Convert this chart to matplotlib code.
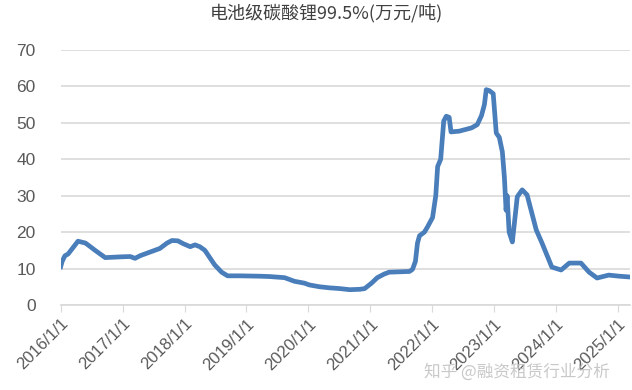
import pandas as pd
import matplotlib.pyplot as plt

plt.rcParams['font.family'] = ['Noto Sans CJK SC', 'DejaVu Sans']

# battery-grade lithium carbonate price, 10k yuan / t
dates = [
    "2016-01-01", "2016-01-10", "2016-01-26", "2016-02-14", "2016-03-10", "2016-04-12",
    "2016-05-26", "2016-06-24", "2016-07-22", "2016-08-21", "2016-09-20", "2016-12-16",
    "2017-02-14", "2017-03-15", "2017-04-13", "2017-06-10", "2017-08-08", "2017-09-20",
    "2017-10-19", "2017-11-23", "2017-12-25", "2018-02-04", "2018-03-04", "2018-04-01",
    "2018-05-01", "2018-05-30", "2018-06-28", "2018-08-08", "2018-09-12", "2018-11-24",
    "2019-03-21", "2019-05-19", "2019-08-14", "2019-10-12", "2019-12-09", "2020-01-08",
    "2020-03-08", "2020-05-07", "2020-07-05", "2020-09-02", "2020-10-31", "2020-11-29",
    "2021-01-09", "2021-02-12", "2021-03-25", "2021-04-23", "2021-08-21", "2021-09-08",
    "2021-09-25", "2021-10-07", "2021-10-19", "2021-11-17", "2021-12-05", "2022-01-04",
    "2022-01-23", "2022-02-03", "2022-02-21", "2022-03-11", "2022-03-26", "2022-04-12",
    "2022-04-23", "2022-06-10", "2022-08-22", "2022-09-25", "2022-10-20", "2022-11-06",
    "2022-11-17", "2022-12-06", "2022-12-28", "2023-01-15", "2023-02-02", "2023-02-20",
    "2023-03-04", "2023-03-14", "2023-03-20", "2023-04-01", "2023-04-20", "2023-05-19",
    "2023-06-17", "2023-07-16", "2023-09-08", "2023-10-12", "2023-12-09", "2024-02-02",
    "2024-03-21", "2024-05-29", "2024-07-16", "2024-09-01", "2024-11-09", "2025-01-10",
    "2025-03-08",
]
prices = [
    10.5, 12.0, 13.5, 14.0, 15.5, 17.5,
    17.0, 16.0, 15.0, 14.0, 13.0, 13.2,
    13.3, 12.8, 13.5, 14.5, 15.5, 17.0,
    17.7, 17.6, 16.8, 16.0, 16.5, 16.0,
    15.0, 13.0, 11.0, 9.0, 8.0, 8.0,
    7.9, 7.8, 7.5, 6.5, 6.0, 5.5,
    5.0, 4.7, 4.5, 4.2, 4.3, 4.5,
    6.0, 7.5, 8.5, 9.0, 9.2, 9.8,
    12.0, 17.0, 19.0, 20.0, 21.4, 24.0,
    30.0, 38.0, 40.0, 50.5, 51.8, 51.5,
    47.5, 47.7, 48.6, 49.5, 52.0, 55.0,
    59.1, 58.8, 58.0, 47.2, 46.0, 42.0,
    35.0, 26.0, 30.0, 20.0, 17.3, 29.7,
    31.6, 30.2, 20.6, 17.0, 10.4, 9.6,
    11.5, 11.5, 9.0, 7.4, 8.2, 7.9,
    7.7,
]
yticks = [0, 10, 20, 30, 40, 50, 60, 70]
xtick_years = list(range(2016, 2026))

x = pd.to_datetime(dates)
grey = "#d9d9d9"
txt = "#595959"

fig = plt.figure(figsize=(6.32, 3.9), dpi=100)
ax = fig.add_axes([0.096, 0.218, 0.901, 0.654])
ax.plot(x, prices, color="#4a7ebb", lw=3.4, solid_joinstyle="round", zorder=3)

ax.set_ylim(0, 70)
ax.set_yticks(yticks)
ax.set_yticklabels([str(v) for v in yticks], fontsize=12.5, color=txt,
                   family=["Liberation Sans"])
ax.set_xlim(pd.Timestamp("2016-01-01"), pd.Timestamp("2025-03-15"))
ax.set_xticks([pd.Timestamp(f"{y}-01-01") for y in xtick_years])
ax.set_xticklabels([f"{y}/1/1" for y in xtick_years], rotation=45, ha="right",
                   rotation_mode="anchor", fontsize=12, color=txt,
                   family=["Liberation Sans"])
ax.tick_params(axis="x", length=5, color=grey, pad=3)
ax.grid(axis="y", color=grey, lw=1.2)
ax.set_axisbelow(True)
for s in ["top", "right", "left"]:
    ax.spines[s].set_visible(False)
ax.spines["bottom"].set_color(grey)
ax.spines["bottom"].set_linewidth(1.2)
ax.tick_params(axis="y", length=0, pad=18)

fig.text(0.517, 0.963, "电池级碳酸锂99.5%(万元/吨)", ha="center", va="center",
         fontsize=13, color="#404040")
fig.text(0.965, 0.045, "知乎 @融资租赁行业分析", ha="right", va="center",
         fontsize=12, color="#bbbbbb", alpha=0.8)

fig.savefig("out.png", dpi=100)
